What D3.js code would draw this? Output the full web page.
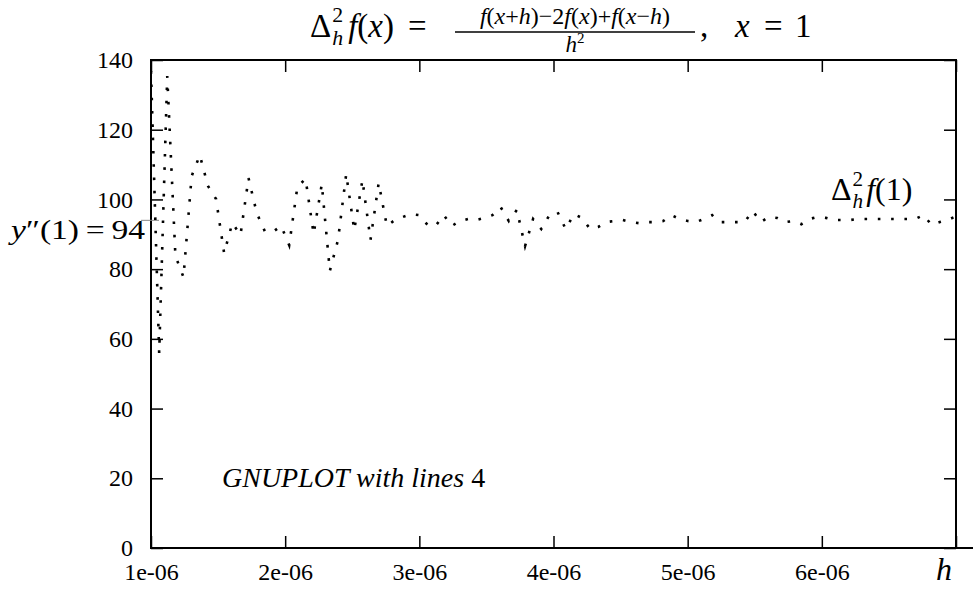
<!DOCTYPE html>
<html>
<head>
<meta charset="utf-8">
<script src="https://cdn.jsdelivr.net/npm/d3@7"></script>
<style>
  body { margin: 0; background: #fff; }
  svg { display: block; }
  svg text { font-family: "Liberation Serif", "Times New Roman", "DejaVu Serif", serif; fill: #000; }
  .it { font-style: italic; }
</style>
</head>
<body>
<div id="plot"></div>
<script>
// sample points h (in units of 1e-6), gnuplot default 100 samples on [1e-6, 7e-6]
const hMicro = [
  1.000, 1.061, 1.121, 1.182, 1.242, 1.303, 1.364, 1.424, 1.485, 1.545,
  1.606, 1.667, 1.727, 1.788, 1.848, 1.909, 1.970, 2.030, 2.091, 2.152,
  2.212, 2.273, 2.333, 2.394, 2.455, 2.515, 2.576, 2.636, 2.697, 2.758,
  2.818, 2.879, 2.939, 3.000, 3.061, 3.121, 3.182, 3.242, 3.303, 3.364,
  3.424, 3.485, 3.545, 3.606, 3.667, 3.727, 3.788, 3.848, 3.909, 3.970,
  4.030, 4.091, 4.152, 4.212, 4.273, 4.333, 4.394, 4.455, 4.515, 4.576,
  4.636, 4.697, 4.758, 4.818, 4.879, 4.939, 5.000, 5.061, 5.121, 5.182,
  5.242, 5.303, 5.364, 5.424, 5.485, 5.545, 5.606, 5.667, 5.727, 5.788,
  5.848, 5.909, 5.970, 6.030, 6.091, 6.152, 6.212, 6.273, 6.333, 6.394,
  6.455, 6.515, 6.576, 6.636, 6.697, 6.758, 6.818, 6.879, 6.939, 7.000
];
// second difference values
const deltaVals = [
  136.8, 55.9, 135.4, 83.8, 77.7, 106.7, 112.7, 103.9, 100.1, 84.6,
  93.2, 89.8, 106.1, 96.1, 90.9, 90.7, 92.4, 86.9, 103.6, 105.9,
  90.1, 104.4, 79.5, 88.4, 107.3, 91.2, 105.6, 88.4, 104.7, 92.4,
  94.1, 95.0, 95.8, 95.5, 92.7, 92.4, 95.5, 92.4, 93.8, 94.4,
  94.1, 94.7, 95.5, 97.8, 93.8, 97.0, 86.6, 94.4, 91.5, 95.5,
  96.4, 91.5, 95.8, 94.7, 91.5, 92.1, 93.5, 93.8, 94.1, 93.5,
  93.2, 93.5, 93.5, 93.8, 95.5, 94.4, 93.8, 93.5, 94.4, 95.5,
  93.5, 93.5, 93.5, 93.5, 96.7, 93.5, 95.0, 94.7, 93.5, 93.8,
  92.9, 94.4, 95.0, 94.7, 94.1, 94.1, 94.1, 94.4, 94.4, 94.4,
  94.4, 94.4, 94.4, 94.4, 94.4, 95.5, 92.7, 93.5, 94.1, 95.2
];
const xTicks = [1, 2, 3, 4, 5, 6, 7];
const xTickLabels = ["1e-06", "2e-06", "3e-06", "4e-06", "5e-06", "6e-06", ""];
const yTicks = [0, 20, 40, 60, 80, 100, 120, 140];
const exactValue = 94;

const w = 973, h = 589;
const margin = { top: 60, right: 17, bottom: 41, left: 151 };
const serif = "'Liberation Serif', 'Times New Roman', 'DejaVu Serif', serif";

const svg = d3.select("#plot").append("svg")
  .attr("width", w).attr("height", h)
  .attr("font-family", serif);

const xScale = d3.scaleLinear().domain([1, 7]).range([margin.left, w - margin.right]);
const yScale = d3.scaleLinear().domain([0, 140]).range([h - margin.bottom, margin.top]);

const data = hMicro.map((d, i) => ({ h: d, v: deltaVals[i] }));

svg.append("clipPath").attr("id", "clip")
  .append("rect")
  .attr("x", margin.left).attr("y", margin.top - 2)
  .attr("width", xScale(7) - margin.left)
  .attr("height", yScale(0) - margin.top + 2);

// axes, ticks pointing inward on all four sides
svg.append("g")
  .attr("transform", `translate(0,${yScale(0)})`)
  .call(d3.axisBottom(xScale).tickValues(xTicks).tickSizeInner(-12).tickSizeOuter(0)
    .tickPadding(15).tickFormat((d, i) => xTickLabels[i]));
svg.append("g")
  .attr("transform", `translate(${margin.left},0)`)
  .call(d3.axisLeft(yScale).tickValues(yTicks).tickSizeInner(-12).tickSizeOuter(0)
    .tickPadding(18));
svg.append("g")
  .attr("transform", `translate(0,${margin.top})`)
  .call(d3.axisTop(xScale).tickValues(xTicks).tickSizeInner(-12).tickSizeOuter(0).tickFormat(""));
svg.append("g")
  .attr("transform", `translate(${xScale(7)},0)`)
  .call(d3.axisRight(yScale).tickValues(yTicks).tickSizeInner(-12).tickSizeOuter(0).tickFormat(""));

svg.selectAll(".domain").remove();
svg.selectAll("g").attr("font-family", serif);
svg.selectAll(".tick line").attr("stroke", "#000").attr("stroke-width", 1.5);
svg.selectAll(".tick text").attr("font-size", 24).attr("fill", "#000");

// frame, bottom axis runs on to the page edge
svg.append("rect")
  .attr("x", margin.left).attr("y", margin.top)
  .attr("width", xScale(7) - margin.left)
  .attr("height", yScale(0) - margin.top)
  .attr("fill", "none").attr("stroke", "#000").attr("stroke-width", 2);
svg.append("line")
  .attr("x1", xScale(7)).attr("x2", w)
  .attr("y1", yScale(0)).attr("y2", yScale(0))
  .attr("stroke", "#000").attr("stroke-width", 2);

// exact value marker y''(1)=94
svg.append("line")
  .attr("x1", margin.left - 10).attr("x2", margin.left + 8)
  .attr("y1", yScale(exactValue)).attr("y2", yScale(exactValue))
  .attr("stroke", "#888").attr("stroke-width", 1);
const yl = svg.append("text")
  .attr("x", margin.left - 6).attr("y", yScale(exactValue) + 19)
  .attr("text-anchor", "end").attr("font-size", 28)
  .attr("textLength", 134).attr("lengthAdjust", "spacingAndGlyphs");
yl.append("tspan").attr("class", "it").text("y");
yl.append("tspan").text("″(1)\u2009=\u200994");

// the curve, dotted ("with lines 4")
const line = d3.line().x(d => xScale(d.h)).y(d => yScale(d.v));
svg.append("path")
  .datum(data)
  .attr("clip-path", "url(#clip)")
  .attr("d", line)
  .attr("fill", "none")
  .attr("stroke", "#000")
  .attr("stroke-width", 2.6)
  .attr("stroke-dasharray", "2.6 10.7");

// helper: a run of roman / italic pieces, returns its right edge
function mathText(x, y, size, parts, anchor) {
  const t = svg.append("text").attr("x", x).attr("y", y).attr("font-size", size)
    .attr("text-anchor", anchor || "start");
  parts.forEach(p => {
    t.append("tspan").attr("font-style", p[1] ? "italic" : "normal").text(p[0]);
  });
  return x + t.node().getComputedTextLength();
}
// Delta with stacked ^2 and _h
function deltaH(x, y, size) {
  const d = svg.append("text").attr("x", x).attr("y", y).attr("font-size", size).text("Δ");
  const dx = x + d.node().getComputedTextLength() + 1;
  const ss = size * 0.66;
  svg.append("text").attr("x", dx).attr("y", y - size * 0.45).attr("font-size", ss).text("2");
  const s = svg.append("text").attr("x", dx).attr("y", y + size * 0.25).attr("font-size", ss)
    .attr("class", "it").text("h");
  return dx + s.node().getComputedTextLength() + 3;
}

// title
let tx = deltaH(310, 37, 33);
tx = mathText(tx + 2, 37, 33, [["f", 1], ["(", 0], ["x", 1], [")", 0]]);
mathText(tx + 14, 37, 33, [["=", 0]]);
mathText(575, 24, 24, [["f", 1], ["(", 0], ["x", 1], ["+", 0], ["h", 1], [")−2", 0], ["f", 1], ["(", 0],
  ["x", 1], [")+", 0], ["f", 1], ["(", 0], ["x", 1], ["−", 0], ["h", 1], [")", 0]], "middle");
svg.append("line").attr("x1", 455).attr("x2", 695).attr("y1", 32).attr("y2", 32)
  .attr("stroke", "#000").attr("stroke-width", 1.3);
const den = svg.append("text").attr("x", 575).attr("y", 52).attr("font-size", 23)
  .attr("text-anchor", "middle");
den.append("tspan").attr("class", "it").text("h");
den.append("tspan").attr("font-size", 15).attr("dy", -9).text("2");
mathText(700, 37, 33, [[",", 0]]);
mathText(735, 37, 33, [["x", 1]]);
mathText(764, 37, 33, [["=", 0]]);
mathText(795, 37, 33, [["1", 0]]);

// key label
tx = deltaH(831, 200, 32);
mathText(tx, 200, 32, [["f", 1], ["(1)", 0]]);

// annotation
mathText(222, 487, 28, [["GNUPLOT with lines ", 1], ["4", 0]]);

// x label
mathText(936, 580, 32, [["h", 1]]);
</script>
</body>
</html>
